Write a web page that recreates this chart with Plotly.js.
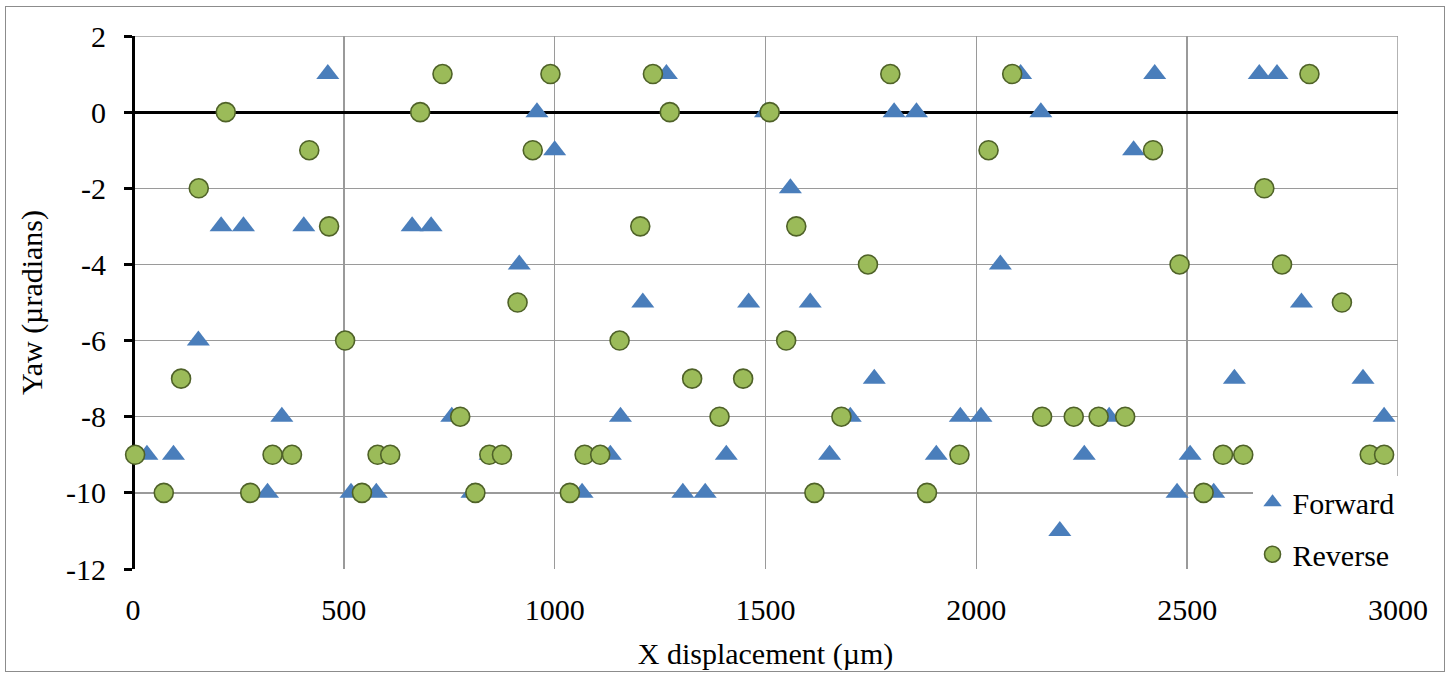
<!DOCTYPE html>
<html>
<head>
<meta charset="utf-8">
<script src="https://cdn.plot.ly/plotly-3.0.1.min.js"></script>
<style>
  html, body { margin: 0; padding: 0; background: #fff; }
  #wrap { position: relative; width: 1449px; height: 677px; }
  #chart { position: absolute; left: 0; top: 0; width: 1449px; height: 677px; }
  #frame { position: absolute; left: 5px; top: 6px; width: 1438px; height: 664px; border: 1.5px solid #8c8c8c; pointer-events: none; }
</style>
</head>
<body>
<div id="wrap"><div id="chart"></div><div id="frame"></div></div>
<script>
// Forward series (X displacement µm, Yaw µradians)
const forwardX = [33, 96, 155, 209, 262, 319, 353, 405, 462, 517, 577, 605, 662, 707, 756, 804, 847, 916, 958, 1000, 1065, 1132, 1156, 1209, 1265, 1304, 1357, 1407, 1460, 1500, 1559, 1606, 1652, 1701, 1758, 1805, 1858, 1905, 1962, 2011, 2057, 2105, 2153, 2198, 2256, 2315, 2373, 2423, 2476, 2507, 2563, 2612, 2671, 2713, 2771, 2917, 2967];
const forwardY = [-9, -9, -6, -3, -3, -10, -8, -3, 1, -10, -10, -9, -3, -3, -8, -10, -9, -4, 0, -1, -10, -9, -8, -5, 1, -10, -10, -9, -5, 0, -2, -5, -9, -8, -7, 0, 0, -9, -8, -8, -4, 1, 0, -11, -9, -8, -1, 1, -10, -9, -10, -7, 1, 1, -5, -7, -8];

// Reverse series
const reverseX = [5, 73, 114, 156, 220, 278, 331, 377, 418, 465, 503, 543, 580, 610, 681, 734, 776, 812, 845, 875, 912, 948, 990, 1036, 1071, 1108, 1154, 1203, 1233, 1273, 1326, 1391, 1447, 1510, 1549, 1573, 1616, 1680, 1743, 1796, 1883, 1960, 2029, 2085, 2156, 2231, 2290, 2353, 2419, 2482, 2539, 2585, 2633, 2683, 2725, 2790, 2867, 2933, 2967];
const reverseY = [-9, -10, -7, -2, 0, -10, -9, -9, -1, -3, -6, -10, -9, -9, 0, 1, -8, -10, -9, -9, -5, -1, 1, -10, -9, -9, -6, -3, 1, 0, -7, -8, -7, 0, -6, -3, -10, -8, -4, 1, -10, -9, -1, 1, -8, -8, -8, -8, -1, -4, -10, -9, -9, -2, -4, 1, -5, -9, -9];

// Axis ticks
const xTickVals = [0, 500, 1000, 1500, 2000, 2500, 3000];
const xTickText = ["0", "500", "1000", "1500", "2000", "2500", "3000"];
const yTickVals = [2, 0, -2, -4, -6, -8, -10, -12];
const yTickText = ["2", "0", "-2", "-4", "-6", "-8", "-10", "-12"];

const FONT = "Liberation Serif, Times New Roman, serif";
const xRange = [0, 3000];
const yRange = [-12, 2];

const traces = [
  {
    x: forwardX, y: forwardY, name: "Forward", type: "scatter", mode: "markers", legendgroup: "f",
    marker: { symbol: "triangle-up", size: 20, color: "#4A7EBB", line: { width: 0 } },
    cliponaxis: false
  },
  {
    x: reverseX, y: reverseY, name: "Reverse", type: "scatter", mode: "markers", legendgroup: "r",
    marker: { symbol: "circle", size: 19, color: "#9BBB59", line: { color: "#4F6228", width: 1.6 } },
    cliponaxis: false
  }
];

const layout = {
  width: 1449, height: 677,
  margin: { l: 133, r: 51, t: 36, b: 108 },
  paper_bgcolor: "#ffffff", plot_bgcolor: "#ffffff",
  font: { family: FONT, size: 30, color: "#000" },
  showlegend: true,
  legend: {
    x: 0.885, xanchor: "left", y: 0.174, yanchor: "top",
    bgcolor: "#ffffff", borderwidth: 0,
    font: { family: FONT, size: 30, color: "#000" },
    itemsizing: "trace", tracegroupgap: 10
  },
  xaxis: {
    range: xRange, tickvals: xTickVals, ticktext: xTickText,
    showgrid: true, gridcolor: "#9a9a9a", gridwidth: 1.5,
    zeroline: true, zerolinecolor: "#000", zerolinewidth: 3,
    showline: false, ticks: "", ticklabelstandoff: 20,
    tickfont: { family: FONT, size: 30 },
    title: { text: "X displacement (µm)", font: { family: FONT, size: 30 }, standoff: 17 },
    mirror: false
  },
  xaxis2: {
    overlaying: "x", anchor: "free", position: 12 / 14, side: "bottom",
    range: xRange, tickvals: xTickVals, showticklabels: false,
    ticks: "outside", ticklen: 7, tickwidth: 3, tickcolor: "#000",
    showgrid: false, zeroline: false, showline: false
  },
  yaxis: {
    range: yRange, tickvals: yTickVals, ticktext: yTickText,
    showgrid: true, gridcolor: "#9a9a9a", gridwidth: 1.5,
    zeroline: true, zerolinecolor: "#000", zerolinewidth: 3,
    showline: false, ticks: "outside", ticklen: 8, tickwidth: 3, tickcolor: "#000",
    ticklabelstandoff: 12,
    tickfont: { family: FONT, size: 30 },
    title: { text: "Yaw (µradians)", font: { family: FONT, size: 30 }, standoff: 14 }
  },
  shapes: [
    { type: "line", xref: "x", yref: "paper", x0: 3000, x1: 3000, y0: 0, y1: 1, line: { color: "#9a9a9a", width: 1.5 }, layer: "below" },
    { type: "line", xref: "paper", yref: "y", x0: 0, x1: 1, y0: 2, y1: 2, line: { color: "#9a9a9a", width: 1.5 }, layer: "below" }
  ]
};

Plotly.newPlot("chart", traces, layout, { displayModeBar: false, staticPlot: true });
</script>
</body>
</html>
